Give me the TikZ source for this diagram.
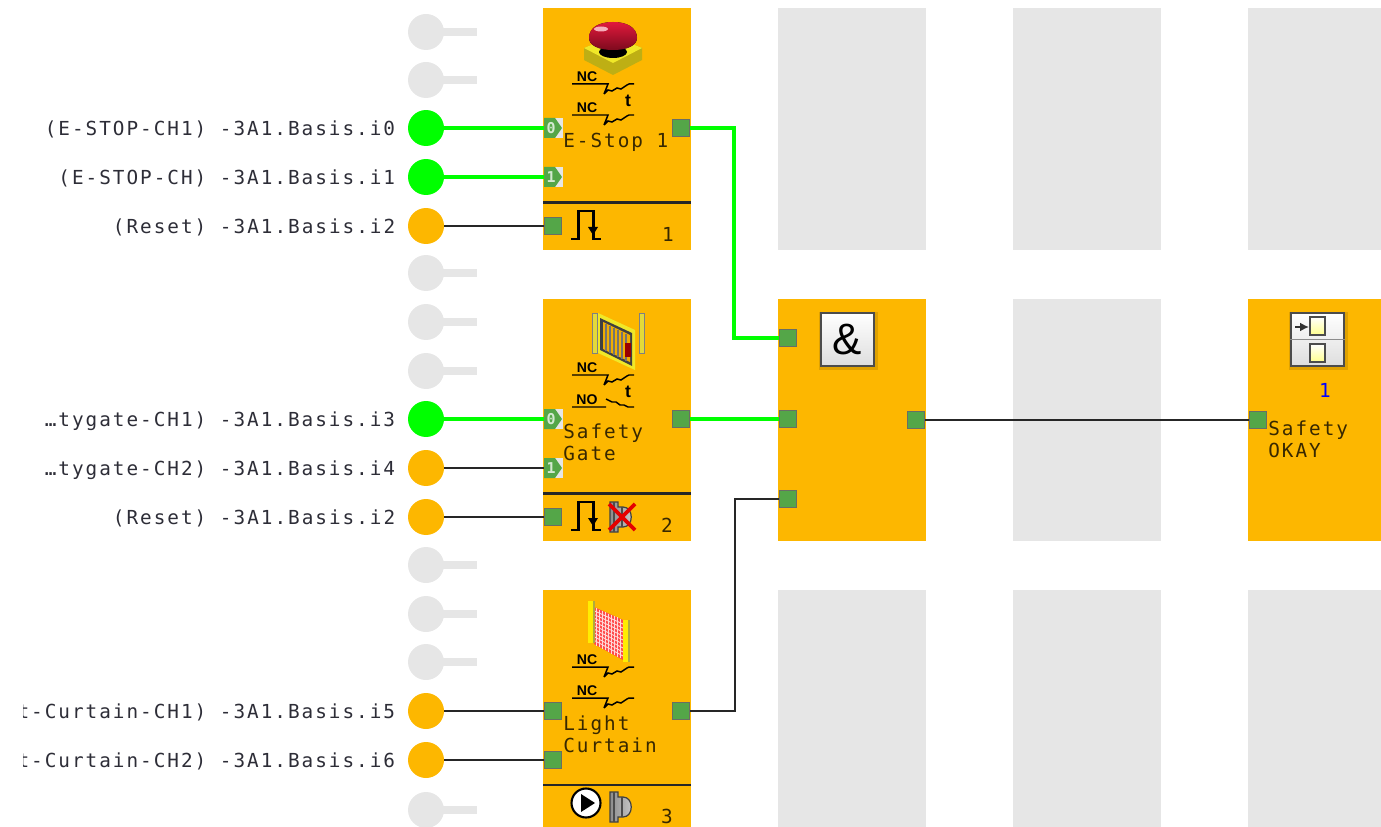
\documentclass[tikz,border=0pt]{standalone}
\usepackage{fontspec}
\setmainfont{Liberation Sans}
\setmonofont[LetterSpace=10.3]{DejaVu Sans Mono}
\usetikzlibrary{arrows.meta,positioning,calc}
\definecolor{blockorange}{RGB}{253,183,0}
\definecolor{emptygray}{RGB}{230,230,230}
\definecolor{portgreen}{RGB}{84,166,72}
\definecolor{portedge}{RGB}{105,110,100}
\definecolor{livegreen}{RGB}{0,255,0}
\definecolor{labeldark}{RGB}{45,45,55}
\definecolor{stopred}{RGB}{225,25,60}
\definecolor{stopdark}{RGB}{125,10,30}
\definecolor{baseyellow}{RGB}{240,232,40}
\definecolor{baseolive}{RGB}{190,175,20}
\tikzset{
  fblock/.style={fill=blockorange,minimum width=2.96cm,minimum height=4.84cm,inner sep=0pt,outer sep=0pt},
  emptyblock/.style={fill=emptygray,minimum width=2.96cm,minimum height=4.84cm,inner sep=0pt,outer sep=0pt},
  port/.style={fill=portgreen,draw=portedge,line width=1pt,minimum size=0.34cm,inner sep=0pt},
  tagbox/.style={fill=emptygray,minimum width=0.38cm,minimum height=0.4cm,inner sep=0pt,outer sep=0pt},
  inpin/.style={circle,minimum size=0.72cm,inner sep=0pt,outer sep=0pt},
  pinlabel/.style={left=0.25cm of #1,inner sep=0pt,yshift=-1pt,font=\fontsize{11}{14}\ttfamily,text=labeldark},
  blocktext/.style={anchor=north west,inner sep=0pt,align=left,font=\fontsize{11}{13}\ttfamily,text=black!78!blockorange},
  livewire/.style={livegreen,line width=1.75pt},
  deadwire/.style={black!85,line width=1pt},
  bar/.style={black!85,line width=1.2pt},
  iconbtn/.style={top color=white,bottom color=black!13,draw=black!70,line width=1.1pt,minimum width=1.06cm,minimum height=1.06cm,inner sep=0pt},
  contactnc/.pic={
    \node[inner sep=0pt,font=\bfseries\fontsize{8}{8}\selectfont] at (15,-7) {NC};
    \draw[line width=0.85pt] (0,0) -- (36,0) -- (32,10) (32,10) -- (36,6) -- (40,7) -- (45,4) -- (49,5) -- (55,1) -- (57,0) -- (62,0);
  },
  contactno/.pic={
    \node[inner sep=0pt,font=\bfseries\fontsize{8}{8}\selectfont] at (15,-7) {NO};
    \draw[line width=0.85pt] (0,0) -- (34,0) (34,-8) -- (40,-5) -- (44,-5) -- (48,-2) -- (52,-2) -- (56,0) -- (62,0);
  },
  pulsemark/.pic={
    \draw[line width=1.7pt] (0,0) -- (7,0) -- (7,-28) -- (22,-28) -- (22,0) -- (30,0);
    \fill (17,-12) -- (27,-12) -- (22,-4) -- cycle;
  },
  bellmark/.pic={
    \draw[left color=black!45,right color=black!20,draw=black!75,line width=0.7pt] (1,0) -- (9,0) -- (9,5) -- (14,5) .. controls (25,5) and (25,25) .. (14,25) -- (9,25) -- (9,30) -- (1,30) -- cycle;
    \draw[black!70,line width=0.6pt] (5,0) -- (5,30) (13,5) -- (13,25);
  }
}
\begin{document}
\begin{tikzpicture}[x=0.02cm,y=-0.02cm]
\useasboundingbox (0,0) rectangle (1381,827);
\clip (0,0) rectangle (1381,827);

% function blocks
\node[fblock] (fb1) at (617,129) {};
\node[fblock,below=0.98cm of fb1] (fb2) {};
\node[fblock,below=0.98cm of fb2] (fb3) {};
\node[emptyblock,right=1.74cm of fb1] (ea1) {};
\node[fblock,right=1.74cm of fb2] (fba) {};
\node[emptyblock,right=1.74cm of fb3] (ea3) {};
\node[emptyblock,right=1.74cm of ea1] (eb1) {};
\node[emptyblock,right=1.74cm of fba] (eb2) {};
\node[emptyblock,right=1.74cm of ea3] (eb3) {};
\node[emptyblock,right=1.74cm of eb1] (ec1) {};
\node[fblock,right=1.74cm of eb2] (fbo) {};
\node[emptyblock,right=1.74cm of eb3] (ec3) {};

\draw[bar] (543,202.5) -- (691,202.5);
\draw[bar] (543,493.5) -- (691,493.5);
\draw[bar] (543,785) -- (691,785);

% unused pins
\foreach \y in {32,80,273,322,371,565,614,662,810} {
  \fill[emptygray] (426,\y-4) rectangle (477,\y+4);
  \fill[emptygray] (426,\y) circle (18);
}

% used pins
\foreach \name/\y/\col/\lab in {
  in0/128/livegreen/{(E-STOP-CH1) -3A1.Basis.i0},
  in1/177/livegreen/{(E-STOP-CH) -3A1.Basis.i1},
  in2/226/blockorange/{(Reset) -3A1.Basis.i2},
  in3/419/livegreen/{…tygate-CH1) -3A1.Basis.i3},
  in4/468/blockorange/{…tygate-CH2) -3A1.Basis.i4},
  in5/517/blockorange/{(Reset) -3A1.Basis.i2},
  in6/711/blockorange/{t-Curtain-CH1) -3A1.Basis.i5},
  in7/760/blockorange/{t-Curtain-CH2) -3A1.Basis.i6}} {
  \node[inpin,fill=\col] (\name) at (426,\y) {};
  \node[pinlabel=\name] (lab\name) {\lab};
}
\fill[white] (0,690) rectangle (23,780);

% ports
\foreach \name/\x/\y in {p2/553/226,p5/553/517,p6/553/711,p7/553/760,
  out1/681/128,out2/681/419,out3/681/711,
  and1/788/338,and2/788/419,and3/788/499,andout/916/420,okin/1258/420} {
  \node[port] (\name) at (\x,\y) {};
}
\foreach \name/\y/\lab in {t0/128/0,t1/177/1,t3/419/0,t4/468/1} {
  \node[tagbox] (\name) at (553,\y) {};
  \fill[portgreen] (544,\y-10) -- (555,\y-10) -- (562,\y) -- (555,\y+10) -- (544,\y+10) -- cycle;
  \node[inner sep=0pt,text=white!75!portgreen,font=\bfseries\fontsize{8.5}{9}\ttfamily] at (551,\y) {\lab};
}

% connectors
\draw[livewire] (in0) -- (t0);
\draw[livewire] (in1) -- (t1);
\draw[deadwire] (in2) -- (p2);
\draw[livewire] (in3) -- (t3);
\draw[deadwire] (in4) -- (t4);
\draw[deadwire] (in5) -- (p5);
\draw[deadwire] (in6) -- (p6);
\draw[deadwire] (in7) -- (p7);
\draw[livewire] (out1) -- ++(53,0) |- (and1);
\draw[livewire] (out2) -- (and2);
\draw[deadwire] (out3) -- ++(54,0) |- (and3);
\draw[deadwire] (andout) -- (okin);

% block texts
\node[blocktext] (txt1) at (563,133) {E-Stop 1};
\node[blocktext] (txt2) at (563,423) {Safety\\Gate};
\node[blocktext] (txt3) at (563,715) {Light\\Curtain};
\node[blocktext] (txto) at (1268,420) {Safety\\OKAY};
\node[blocktext,anchor=center] (num1) at (668,234) {1};
\node[blocktext,anchor=center] (num2) at (667,525) {2};
\node[blocktext,anchor=center] (num3) at (667,816) {3};

% contacts
\pic at (572,84) {contactnc};
\pic at (572,115) {contactnc};
\pic at (572,375) {contactnc};
\pic at (572,407) {contactno};
\pic at (572,667) {contactnc};
\pic at (572,698) {contactnc};
\node[inner sep=0pt,font=\bfseries\fontsize{10}{10}\selectfont] at (628,101) {t};
\node[inner sep=0pt,font=\bfseries\fontsize{10}{10}\selectfont] at (628,392) {t};

% stop button
\fill[baseolive] (584,48) -- (613,36) -- (642,48) -- (642,60) -- (613,75) -- (584,60) -- cycle;
\fill[baseyellow] (584,48) -- (613,36) -- (642,48) -- (613,63) -- cycle;
\fill[black] (613,52) ellipse (14 and 6);
\fill[top color=stopred,bottom color=stopdark] (589,38) .. controls (589,27) and (600,22) .. (613,22) .. controls (626,22) and (637,27) .. (637,38) .. controls (637,45) and (628,50) .. (613,50) .. controls (598,50) and (589,45) .. (589,38) -- cycle;
\fill[white!65!stopred] (601,29) ellipse (7 and 2.5);

% gate icon
\fill[yellow!75!gray,draw=black!50,line width=0.3pt] (592,313) rectangle (597,353);
\fill[yellow!75!gray,draw=black!50,line width=0.3pt] (639,313) rectangle (644,353);
\fill[baseyellow] (598,313) -- (635,330) -- (635,370) -- (598,353) -- cycle;
\fill[black!75] (600,318) -- (632,333) -- (632,366) -- (600,350) -- cycle;
\fill[black!5!blockorange] (603,322) -- (630,335) -- (630,362) -- (603,349) -- cycle;
\foreach \x in {606,610,614,618,622,626} {
  \draw[black!55,line width=0.7pt] (\x,{323+(\x-603)*0.47}) -- (\x,{350+(\x-603)*0.47});
}
\fill[red!60!black] (625,343) rectangle (631,357);

% curtain icon
\fill[red!70!white] (594,607) -- (623,620) -- (623,660) -- (594,644) -- cycle;
\foreach \s in {0.1,0.2,0.3,0.4,0.5,0.6,0.7,0.8,0.9} {
  \draw[white!85!red,line width=0.5pt] ($(594,607)!\s!(623,620)$) -- ($(594,644)!\s!(623,660)$);
  \draw[white!85!red,line width=0.5pt] ($(594,607)!\s!(594,644)$) -- ($(623,620)!\s!(623,660)$);
}
\fill[yellow!95!orange] (588,601) rectangle (593,643);
\fill[black!35!yellow] (593,601) rectangle (595,643);
\fill[yellow!95!orange] (623,620) rectangle (628,662);
\fill[black!35!yellow] (628,620) rectangle (630,662);

% reset marks
\pic at (571,239) {pulsemark};
\pic at (571,530) {pulsemark};
\pic at (609,502) {bellmark};
\draw[red!90!black,line width=2.2pt] (609,504) -- (635,530);
\draw[red!90!black,line width=2.2pt] (635,504) -- (609,530);
\node[circle,draw=black,line width=1.2pt,fill=white,minimum size=0.58cm,inner sep=0pt] (play) at (586,803) {};
\fill (581,794) -- (595,803) -- (581,812) -- cycle;
\pic at (609,792) {bellmark};

% and block icon
\fill[black!12!blockorange] (819,312) rectangle (878,370);
\node[iconbtn] (andbtn) at (847.5,339.5) {};
\node[inner sep=0pt,font=\fontsize{25}{25}\selectfont] at (andbtn) {\&};

% output block icon
\fill[black!12!blockorange] (1289,312) rectangle (1348,370);
\node[iconbtn] (outbtn) at (1317.5,339.5) {};
\draw[black!45,line width=0.9pt] (outbtn.west) -- (outbtn.east);
\foreach \y in {317,344} {
  \draw[black!70,line width=0.8pt,top color=white,bottom color=yellow!45] (1310,\y) rectangle (1325,\y+18);
}
\draw[-{Latex[length=5pt,width=5pt]},black!80,line width=1.3pt] (1295,327) -- (1309,327);
\node[inner sep=0pt,text=blue,font=\fontsize{11}{13}\ttfamily] (cnt) at (1325,390) {1};
\end{tikzpicture}
\end{document}
